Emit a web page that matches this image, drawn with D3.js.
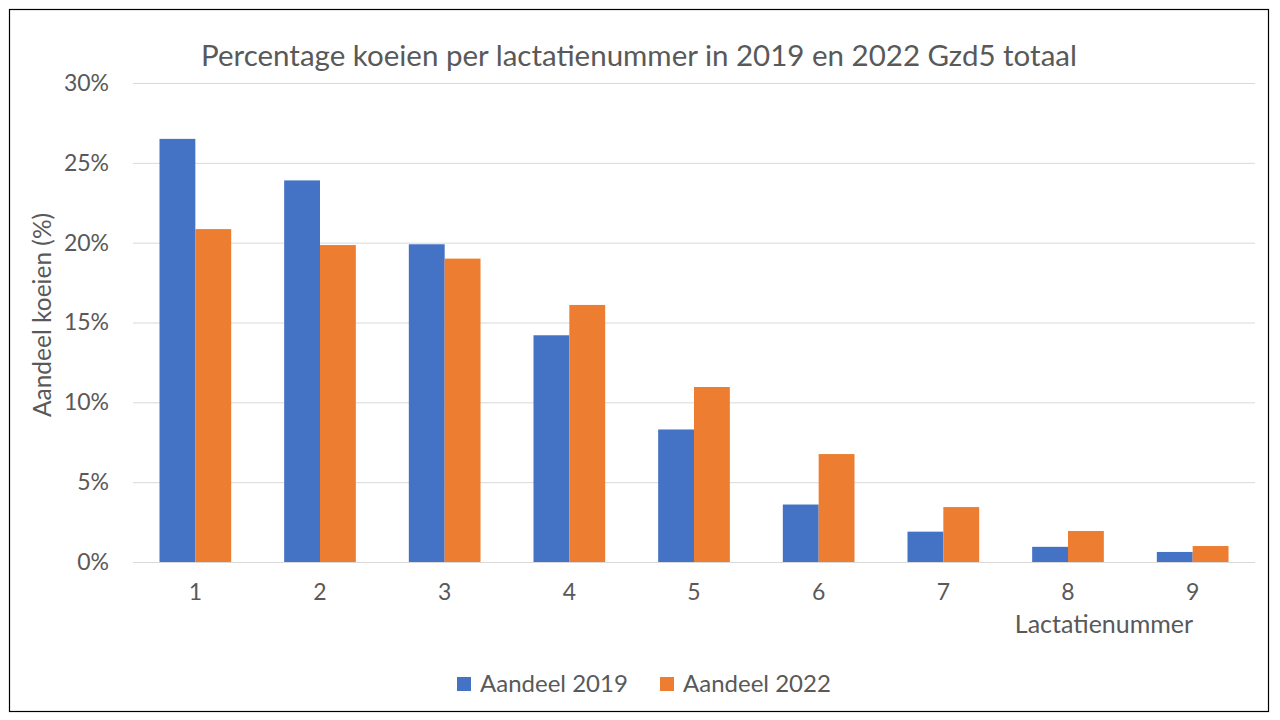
<!DOCTYPE html>
<html><head><meta charset="utf-8">
<script src="https://cdn.jsdelivr.net/npm/d3@7"></script>
<style>body{margin:0;background:#fff}svg{display:block}text{font-family:Lato,"Open Sans",sans-serif;fill:#595959}</style>
</head><body><svg id="c" width="1280" height="720"></svg>
<script>
const categories = ["1","2","3","4","5","6","7","8","9"];
const seriesNames = ["Aandeel 2019","Aandeel 2022"];
const values2019 = [26.5,23.9,19.9,14.2,8.3,3.6,1.9,0.95,0.63];
const values2022 = [20.85,19.85,19.0,16.1,10.96,6.76,3.44,1.94,1.0];
const yTicks = [0,5,10,15,20,25,30];
const colors = ["#4472C4","#ED7D31"];

const svg = d3.select("#c");
svg.append("rect").attr("x",9.5).attr("y",9.5).attr("width",1259).attr("height",702)
  .attr("fill","#fff").attr("stroke","#000").attr("stroke-width",1.2);

const x0 = d3.scaleBand().domain(categories).range([133,1255]).paddingInner(0.425).paddingOuter(0.2125);
const x1 = d3.scaleBand().domain(seriesNames).range([0,x0.bandwidth()]);
const y = d3.scaleLinear().domain([0,30]).range([562,83]);

const grid = svg.append("g");
grid.selectAll("line").data(yTicks).join("line")
  .attr("x1",133).attr("x2",1255).attr("y1",d=>y(d)+0.5).attr("y2",d=>y(d)+0.5)
  .attr("stroke","#d9d9d9").attr("stroke-width",1);

const yAxis = svg.append("g").attr("transform","translate(133,0)")
  .call(d3.axisLeft(y).tickValues(yTicks).tickFormat(d=>d+"%").tickSize(0).tickPadding(24));
yAxis.select(".domain").remove();
yAxis.selectAll("text").attr("font-size",23).style("font-family","Lato,'Open Sans',sans-serif").attr("fill","#595959");

const xAxis = svg.append("g").attr("transform","translate(0,562)")
  .call(d3.axisBottom(x0).tickSize(0).tickPadding(22));
xAxis.select(".domain").remove();
xAxis.selectAll("text").attr("font-size",23).style("font-family","Lato,'Open Sans',sans-serif").attr("fill","#595959");

const data = categories.map((c,i)=>({c, vals:[values2019[i],values2022[i]]}));
const g = svg.append("g").selectAll("g").data(data).join("g")
  .attr("transform",d=>`translate(${x0(d.c)},0)`);
g.selectAll("rect").data(d=>d.vals.map((v,j)=>({v,s:seriesNames[j],j}))).join("rect")
  .attr("x",d=>x1(d.s)).attr("width",x1.bandwidth())
  .attr("y",d=>y(d.v)).attr("height",d=>y(0)-y(d.v))
  .attr("fill",d=>colors[d.j]);

svg.append("text").attr("x",639).attr("y",66).attr("text-anchor","middle")
  .attr("font-size",29.5).text("Percentage koeien per lactatienummer in 2019 en 2022 Gzd5 totaal");
svg.append("text").attr("transform","translate(51,315) rotate(-90)").attr("text-anchor","middle")
  .attr("font-size",24.5).text("Aandeel koeien (%)");
svg.append("text").attr("x",1104).attr("y",633).attr("text-anchor","middle")
  .attr("font-size",25).text("Lactatienummer");

const leg = svg.append("g");
const legX = [457,660];
seriesNames.forEach((s,i)=>{
  leg.append("rect").attr("x",legX[i]).attr("y",677).attr("width",14).attr("height",14).attr("fill",colors[i]);
  leg.append("text").attr("x",legX[i]+23).attr("y",692).attr("font-size",24).text(s);
});
</script></body></html>
